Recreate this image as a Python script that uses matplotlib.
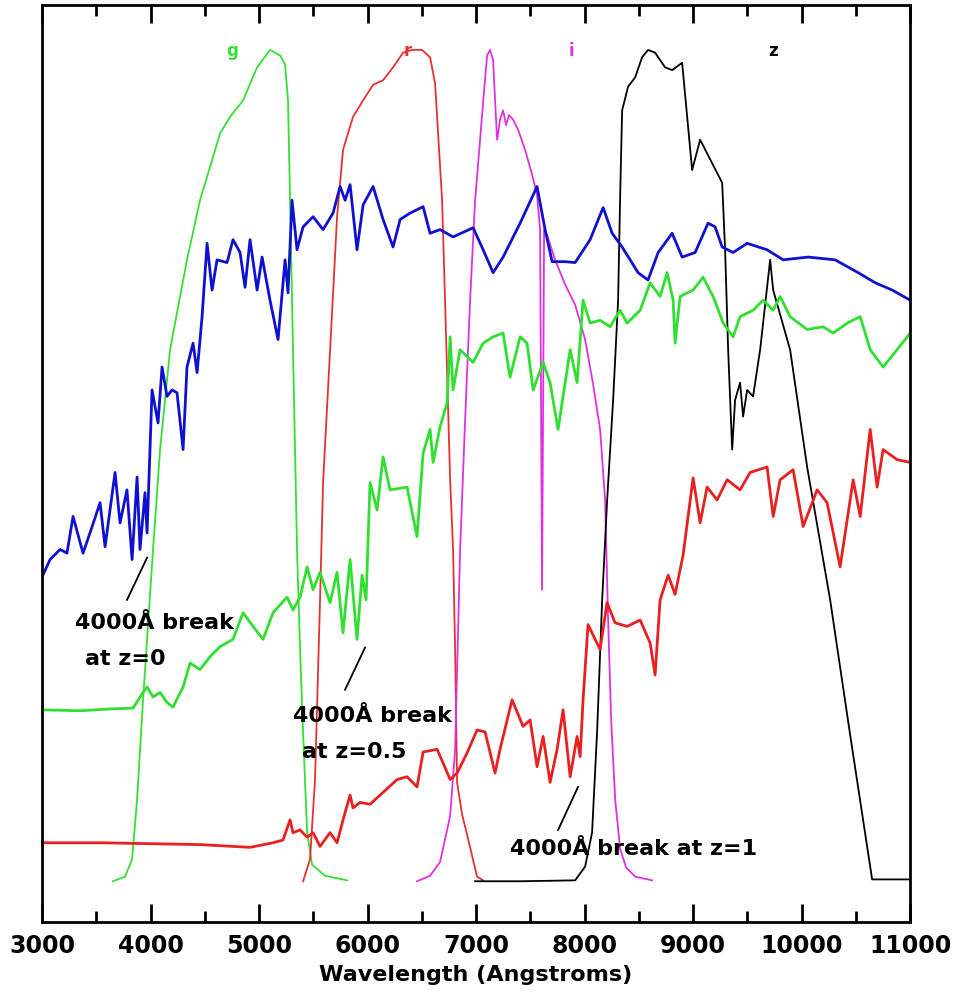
import matplotlib
matplotlib.use('Agg')
import matplotlib.pyplot as plt

# spectra (arbitrary flux units, 0 = bottom of frame, 100 = top)
lam_blue = [3000, 3074, 3166, 3230, 3286, 3378, 3442, 3535, 3581, 3673, 3719, 3783, 3830, 3876, 3903,
            3949, 3968, 3995, 4014, 4069, 4106, 4152, 4198, 4244, 4300, 4336, 4392, 4429, 4475, 4521,
            4567, 4613, 4705, 4760, 4825, 4871, 4917, 4982, 5028, 5101, 5175, 5240, 5267, 5304, 5350,
            5406, 5498, 5590, 5682, 5747, 5793, 5839, 5903, 5959, 6051, 6143, 6235, 6300, 6392, 6512,
            6576, 6668, 6788, 6973, 7065, 7157, 7249, 7406, 7562, 7636, 7701, 7821, 7913, 8051, 8171,
            8254, 8346, 8493, 8585, 8678, 8807, 8899, 9019, 9138, 9203, 9268, 9369, 9498, 9682, 9830,
            10060, 10309, 10521, 10678, 10835, 11000]
flux_blue = [37.6, 39.5, 40.6, 40.2, 44.2, 40.2, 42.4, 45.7, 40.9, 49.0, 43.5, 47.1, 39.5, 48.5, 40.6,
             46.8, 42.4, 51.5, 58.0, 54.4, 60.5, 57.3, 58.0, 57.7, 51.5, 60.5, 63.1, 59.9, 66.0, 74.0,
             68.9, 72.2, 71.9, 74.4, 73.0, 69.2, 74.4, 68.9, 72.5, 67.8, 63.5, 72.2, 68.6, 78.7, 73.3,
             75.8, 76.9, 75.5, 77.3, 80.2, 78.7, 80.4, 73.3, 78.2, 80.2, 76.6, 73.6, 76.6, 77.3, 78.0,
             75.1, 75.5, 74.7, 75.7, 73.3, 70.8, 72.5, 76.2, 80.2, 75.5, 72.0, 72.0, 71.9, 74.4, 77.9,
             75.1, 73.6, 70.8, 70.0, 73.0, 75.1, 72.5, 73.0, 76.2, 75.8, 73.6, 73.0, 74.0, 73.3, 72.2,
             72.5, 72.2, 70.8, 69.7, 68.9, 67.8]

lam_green = [3000, 3350, 3627, 3839, 3931, 3968, 4023, 4088, 4152, 4207, 4300, 4364, 4456, 4548, 4641,
             4760, 4853, 4945, 5037, 5129, 5258, 5313, 5378, 5443, 5498, 5562, 5654, 5719, 5774, 5839,
             5903, 5949, 5986, 6023, 6088, 6143, 6207, 6364, 6456, 6512, 6576, 6604, 6668, 6733, 6761,
             6788, 6853, 6972, 7065, 7157, 7249, 7313, 7406, 7470, 7526, 7618, 7682, 7756, 7867, 7931,
             7986, 8051, 8143, 8235, 8327, 8392, 8512, 8604, 8696, 8761, 8816, 8834, 8880, 9000, 9092,
             9185, 9277, 9369, 9433, 9553, 9645, 9738, 9802, 9894, 10051, 10198, 10291, 10420, 10540,
             10632, 10751, 10880, 11000]
flux_green = [23.1, 23.0, 23.2, 23.3, 25.0, 25.6, 24.5, 25.0, 23.9, 23.4, 25.6, 28.2, 27.5, 28.9, 30.0,
              30.8, 33.7, 32.2, 30.8, 33.7, 35.4, 34.0, 35.4, 38.7, 36.2, 38.1, 34.8, 38.1, 31.5, 39.5,
              30.8, 37.8, 35.1, 47.9, 44.9, 50.7, 47.1, 47.4, 42.0, 51.1, 53.7, 50.1, 54.0, 56.6, 63.8,
              58.0, 62.4, 61.0, 63.1, 63.8, 64.2, 59.4, 63.8, 63.1, 58.0, 61.0, 58.8, 53.7, 62.4, 58.8,
              67.8, 65.3, 65.6, 64.9, 66.7, 65.3, 66.7, 69.7, 68.2, 70.8, 67.8, 63.1, 68.2, 68.9, 70.3,
              68.2, 65.3, 63.8, 66.0, 66.7, 67.8, 66.7, 68.2, 66.0, 64.6, 64.9, 64.2, 65.3, 66.0,
              62.4, 60.5, 62.4, 64.2]

lam_red = [3000, 3535, 3995, 4456, 4917, 5129, 5221, 5286, 5313, 5378, 5443, 5498, 5562, 5654, 5719,
           5774, 5839, 5866, 5931, 6023, 6143, 6272, 6364, 6456, 6512, 6641, 6696, 6761, 6825, 6917,
           7009, 7083, 7175, 7221, 7332, 7433, 7498, 7562, 7618, 7682, 7747, 7802, 7867, 7931, 7959,
           7986, 8032, 8097, 8143, 8207, 8281, 8392, 8512, 8604, 8650, 8696, 8770, 8834, 8908, 9000,
           9065, 9129, 9221, 9314, 9433, 9526, 9682, 9738, 9802, 9922, 10014, 10143, 10235, 10355,
           10475, 10540, 10632, 10696, 10751, 10880, 11000]
flux_red = [8.6, 8.6, 8.5, 8.4, 8.1, 8.6, 8.9, 11.1, 9.7, 10.0, 9.2, 9.7, 8.2, 9.7, 8.6,
            11.1, 13.8, 12.4, 13.0, 12.8, 14.1, 15.5, 15.8, 14.7, 18.5, 18.8, 17.3, 15.5, 16.2, 18.4,
            20.9, 20.7, 16.2, 18.8, 24.2, 21.3, 22.0, 16.9, 20.2, 15.2, 18.8, 23.1, 15.8, 20.2, 18.0,
            24.2, 32.4, 30.8, 29.7, 34.8, 32.6, 32.2, 32.9, 30.4, 26.9, 35.1, 37.8, 35.7, 40.0, 48.4,
            43.5, 47.4, 46.0, 48.2, 47.1, 49.0, 49.6, 44.2, 48.2, 49.3, 43.1, 47.1, 45.7, 38.7,
            48.2, 44.2, 53.7, 47.4, 51.5, 50.4, 50.1]

# filter curves g, r, i, z
lam_g = [3654, 3765, 3830, 3876, 3931, 4023, 4088, 4180, 4336, 4456, 4641, 4733, 4853, 4982, 5101,
         5194, 5240, 5267, 5286, 5313, 5350, 5378, 5406, 5443, 5489, 5608, 5811]
tr_g = [4.4, 4.9, 6.8, 13.3, 24.2, 40.6, 51.5, 62.4, 72.2, 78.7, 86.0, 87.8, 89.6, 93.2, 95.1,
        94.5, 93.5, 89.6, 78.7, 62.4, 40.6, 29.7, 20.6, 9.7, 6.2, 5.0, 4.5]

lam_r = [5406, 5470, 5516, 5562, 5590, 5655, 5719, 5774, 5866, 5959, 6051, 6143, 6235, 6327, 6410,
         6502, 6576, 6622, 6650, 6687, 6714, 6761, 6788, 6807, 6825, 6871, 6917, 7009, 7065]
tr_r = [4.4, 6.8, 15.5, 35.1, 47.9, 62.4, 76.9, 84.2, 87.8, 89.6, 91.3, 91.8, 93.2, 94.8, 95.1,
        95.1, 94.3, 91.5, 86.0, 78.7, 67.8, 48.2, 40.6, 29.7, 15.2, 11.7, 9.5, 4.9, 4.5]

lam_i = [6456, 6576, 6668, 6761, 6807, 6853, 6899, 6945, 6991, 7037, 7074, 7102, 7129, 7157, 7175,
         7194, 7221, 7249, 7277, 7304, 7341, 7387, 7452, 7516, 7562, 7590, 7608, 7627, 7655, 7728,
         7821, 7913, 8005, 8079, 8143, 8189, 8217, 8245, 8282, 8328, 8383, 8466, 8622]
tr_i = [4.4, 5.0, 6.5, 11.5, 18.8, 40.6, 54.7, 67.8, 78.7, 85.3, 90.7, 94.5, 95.1, 94.0, 89.6,
        85.3, 87.5, 88.5, 86.9, 88.0, 87.5, 86.4, 84.2, 81.5, 79.3, 75.5, 36.2, 75.5, 74.9, 72.2,
        69.5, 67.3, 63.5, 58.6, 53.7, 46.0, 32.9, 22.0, 13.3, 7.9, 5.9, 4.9, 4.5]

lam_z = [6991, 7406, 7913, 8005, 8069, 8115, 8162, 8208, 8263, 8309, 8327, 8346, 8401, 8466, 8530,
         8585, 8650, 8742, 8807, 8899, 8991, 9065, 9268, 9295, 9323, 9360, 9387, 9433, 9461, 9498,
         9553, 9618, 9710, 9738, 9894, 10051, 10263, 10447, 10650, 11000]
tr_z = [4.4, 4.4, 4.5, 6.0, 9.7, 20.6, 35.1, 46.0, 56.9, 67.8, 78.7, 88.5, 91.1, 92.1, 94.3,
        95.1, 94.8, 93.2, 92.9, 93.7, 82.0, 85.3, 80.6, 73.3, 62.4, 51.5, 56.9, 58.8, 55.1, 58.0,
        57.3, 62.4, 72.2, 68.9, 62.4, 49.6, 35.1, 20.4, 4.6, 4.6]

filter_names = ['g', 'r', 'i', 'z']
filter_label_x = [4750, 6370, 7880, 9740]
filter_colors = ['#33e033', '#e83030', '#e030e0', 'black']

fig = plt.figure(figsize=(9.55, 10.05), dpi=100)
ax = fig.add_axes([0.044, 0.083, 0.909, 0.912])

# filters
ax.plot(lam_g, tr_g, color=filter_colors[0], lw=1.3)
ax.plot(lam_r, tr_r, color=filter_colors[1], lw=1.3)
ax.plot(lam_i, tr_i, color=filter_colors[2], lw=1.3)
ax.plot(lam_z, tr_z, color=filter_colors[3], lw=1.3)

# galaxy spectra at z = 0, 0.5, 1
ax.plot(lam_blue, flux_blue, color='#1010d0', lw=2.0)
ax.plot(lam_green, flux_green, color='#30e030', lw=2.0)
ax.plot(lam_red, flux_red, color='#e82020', lw=2.0)

for name, xl, c in zip(filter_names, filter_label_x, filter_colors):
    ax.text(xl, 95.0, name, color=c, fontsize=12, fontweight='bold', ha='center', va='center')

# annotations for the 4000 A break
tkw = dict(fontsize=16, fontweight='bold', color='black', ha='left', va='center')
ax.plot([3783, 3968], [35.1, 39.7], color='black', lw=1.3)
ax.text(3304, 32.6, '4000Å break', **tkw)
ax.text(3396, 28.6, 'at z=0', **tkw)

ax.plot([5793, 5977], [25.3, 29.9], color='black', lw=1.3)
ax.text(5313, 22.4, '4000Å break', **tkw)
ax.text(5396, 18.5, 'at z=0.5', **tkw)

ax.plot([7756, 7940], [10.0, 14.7], color='black', lw=1.3)
ax.text(7313, 7.9, '4000Å break at z=1', **tkw)

ax.set_xlim(3000, 11000)
ax.set_ylim(0, 100)
ax.set_xticks(range(3000, 11001, 1000))
ax.set_xticks(range(3500, 11000, 1000), minor=True)
ax.set_yticks([])
ax.tick_params(axis='x', which='both', direction='in', top=True, bottom=True, width=2)
ax.tick_params(axis='x', which='major', length=13, pad=9, labelsize=17)
ax.tick_params(axis='x', which='minor', length=8)
for lab in ax.get_xticklabels():
    lab.set_fontweight('bold')
for sp in ax.spines.values():
    sp.set_linewidth(2)
ax.set_xlabel('Wavelength (Angstroms)', fontsize=16, fontweight='bold', labelpad=5)

fig.savefig('out.png', dpi=100)
